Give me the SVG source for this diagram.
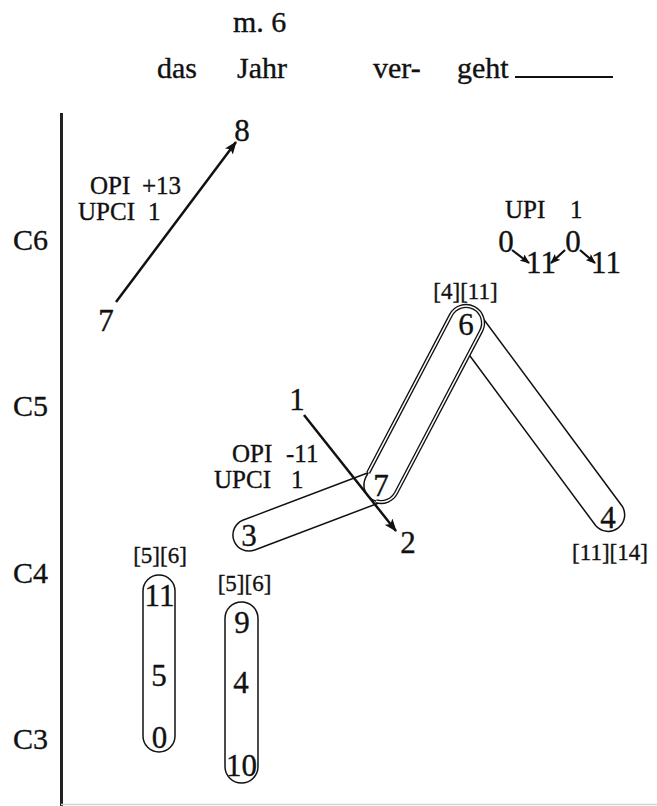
<svg xmlns="http://www.w3.org/2000/svg" width="657" height="806" viewBox="0 0 657 806" font-family="'Liberation Serif', 'Times New Roman', serif">
<style>
text{font-family:'Liberation Serif','Times New Roman',serif;fill:#111;stroke:#111;stroke-width:0.35}
.w{font-size:30px}
.n{font-size:31px;text-anchor:middle}
.s{font-size:25px}
.b{font-size:23px;text-anchor:middle}
.cap{fill:#fff;stroke:#111;stroke-width:1.5}
.arr{stroke:#111;stroke-width:2.5;fill:none}
.arrs{stroke:#111;stroke-width:2.2;fill:none}
</style>
<defs>
<marker id="ah" markerUnits="userSpaceOnUse" markerWidth="13" markerHeight="10" refX="12" refY="5" orient="auto"><path d="M0,0 L13,5 L0,10 L3,5 Z" fill="#111"/></marker>
<marker id="ahs" markerUnits="userSpaceOnUse" markerWidth="10" markerHeight="8" refX="9" refY="4" orient="auto"><path d="M0,0 L10,4 L0,8 L2,4 Z" fill="#111"/></marker>
</defs>
<rect width="657" height="806" fill="#fff"/>
<g id="header">
<text class="w" x="233" y="32">m. 6</text>
<text class="w" x="157" y="78">das</text>
<text class="w" x="237" y="78">Jahr</text>
<text class="w" x="373" y="78">ver-</text>
<text class="w" x="457" y="78">geht</text>
<line x1="515" y1="77" x2="613" y2="77" stroke="#111" stroke-width="2"/>
</g>
<g id="axis">
<line x1="61.5" y1="113" x2="61.5" y2="806" stroke="#222" stroke-width="3"/>
<line x1="61" y1="804.5" x2="657" y2="804.5" stroke="#d4d4d4" stroke-width="1.5"/>
<text class="w" x="13" y="250">C6</text>
<text class="w" x="13" y="416">C5</text>
<text class="w" x="13" y="583">C4</text>
<text class="w" x="13" y="749">C3</text>
</g>
<g id="connectors">
<path class="cap" d="M479.2,313.2 L622.2,506.2 A16.5,16.5 0 0 1 595.8,525.8 L452.8,332.8 A16.5,16.5 0 0 1 479.2,313.2 Z"/>
<path class="cap" d="M243.3,520 L375.3,470 A16,16 0 0 1 386.7,500 L254.7,550 A16,16 0 0 1 243.3,520 Z"/>
<path d="M481.1,330.9 L396.1,492.9 A17,17 0 0 1 365.9,477.1 L450.9,315.1 A17,17 0 0 1 481.1,330.9 Z" fill="#fff"/>
<path d="M376,501.3 A17,17 0 0 0 396.1,492.9 L481.1,330.9 A17,17 0 0 0 450.9,315.1 L368.2,472.7" fill="none" stroke="#111" stroke-width="4.2"/>
<path d="M376,501.3 A17,17 0 0 0 396.1,492.9 L481.1,330.9 A17,17 0 0 0 450.9,315.1 L368.2,472.7" fill="none" stroke="#fff" stroke-width="1.5"/>
<path d="M368.2,472.7 L365.9,477.1 A17,17 0 0 0 376,501.3" fill="none" stroke="#111" stroke-width="1.5"/>
<rect class="cap" x="143" y="575" width="32" height="177" rx="16"/>
<rect class="cap" x="225" y="602" width="33" height="181" rx="16.5"/>
<line class="arr" x1="116" y1="302" x2="236" y2="142" marker-end="url(#ah)"/>
<line class="arr" x1="304" y1="415" x2="396" y2="531" marker-end="url(#ah)"/>
<line class="arrs" x1="512" y1="250" x2="529" y2="263" marker-end="url(#ahs)"/>
<line class="arrs" x1="565" y1="250" x2="551" y2="263" marker-end="url(#ahs)"/>
<line class="arrs" x1="580" y1="250" x2="595" y2="263" marker-end="url(#ahs)"/>
</g>
<g id="n7a"><text class="n" x="106" y="331">7</text></g>
<g id="n8"><text class="n" x="242" y="141">8</text></g>
<g id="lbl-opi13"><text class="s" x="90" y="194">OPI<tspan x="142">+13</tspan></text><text class="s" x="78" y="220">UPCI<tspan x="148">1</tspan></text></g>
<g id="lbl-upi"><text class="s" x="505" y="218">UPI<tspan x="570">1</tspan></text></g>
<g id="upi-nodes">
<text class="n" x="506" y="252">0</text>
<text class="n" x="541" y="273">11</text>
<text class="n" x="573" y="252">0</text>
<text class="n" x="606" y="273">11</text>
</g>
<g id="n6"><text class="b" x="465.5" y="299">[4][11]</text><text class="n" x="466" y="335">6</text></g>
<g id="n4"><text class="n" x="608" y="528">4</text><text class="b" x="610" y="560">[11][14]</text></g>
<g id="n7"><text class="n" x="381" y="496">7</text></g>
<g id="n3"><text class="n" x="249" y="546">3</text></g>
<g id="n1"><text class="n" x="297" y="410">1</text></g>
<g id="n2"><text class="n" x="408" y="553">2</text></g>
<g id="lbl-opi11"><text class="s" x="232" y="462">OPI<tspan x="286">-11</tspan></text><text class="s" x="214" y="488">UPCI<tspan x="291">1</tspan></text></g>
<g id="chord1"><text class="b" x="160" y="563">[5][6]</text><text class="n" x="159.5" y="606">11</text><text class="n" x="159" y="686">5</text><text class="n" x="159.5" y="748">0</text></g>
<g id="chord2"><text class="b" x="244.5" y="591">[5][6]</text><text class="n" x="242" y="633">9</text><text class="n" x="241" y="693">4</text><text class="n" x="241.5" y="776">10</text></g>
</svg>
